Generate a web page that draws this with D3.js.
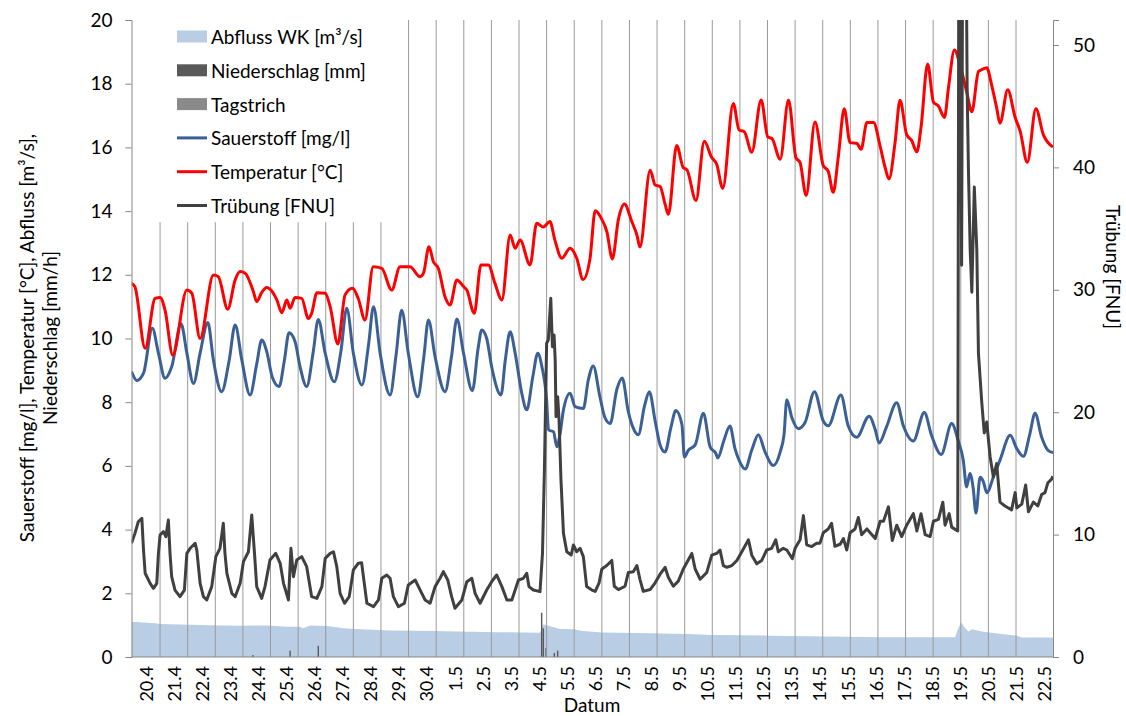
<!DOCTYPE html>
<html>
<head>
<meta charset="utf-8">
<script src="https://cdn.jsdelivr.net/npm/d3@7"></script>
<style>
  html, body { margin: 0; padding: 0; background: #ffffff; }
  svg { display: block; font-family: Lato, "Open Sans", sans-serif; }
</style>
</head>
<body>
<svg id="chart" width="1126" height="716"></svg>
<script>
// Time is given in days since 20.4 00:00 (the day marks sit on midnight).

// Category labels along the date axis
const dateLabels = ["20.4","21.4","22.4","23.4","24.4","25.4","26.4","27.4","28.4","29.4","30.4",
  "1.5","2.5","3.5","4.5","5.5","6.5","7.5","8.5","9.5","10.5","11.5","12.5","13.5","14.5",
  "15.5","16.5","17.5","18.5","19.5","20.5","21.5","22.5"];

// Day marks ("Tagstrich") at each midnight
const tagstrichDays = [1,2,3,4,5,6,7,8,9,10,11,12,13,14,15,16,17,18,19,20,21,22,23,24,25,26,27,28,29,30,31,32];
const tagstrichHeights = [13.65,13.65,13.65,13.65,13.65,13.65,13.65,13.65,13.65,
  20,20,20,20,20,20,20,20,20,20,20,20,20,20,20,20,20,20,20,20,20,20,20];

// Rainfall [mm]: [day, value]
const niederschlag = [[4.36,0.06],[5.71,0.2],[6.73,0.35],[14.82,1.39],[14.88,0.9],[14.98,0.28],[15.28,0.13],[15.4,0.2]];

// Discharge WK [m³/s]
const abfluss = [[-0.035,1.11],[0.82,1.06],[1.0,1.04],[2.81,1.0],[3.83,0.98],[4.86,0.99],[5.59,0.95],[6.07,0.95],
  [6.18,0.9],[6.43,0.99],[7.04,0.97],[7.64,0.9],[8.24,0.87],[9.33,0.83],[10.9,0.82],[13.19,0.78],[14.76,0.76],
  [14.88,1.03],[15.0,1.0],[15.49,0.88],[15.97,0.87],[16.33,0.82],[17.0,0.77],[18.27,0.75],[20.08,0.72],
  [21.03,0.69],[23.2,0.67],[27.19,0.62],[29.8,0.62],[29.86,0.8],[30.01,1.09],[30.16,0.9],[30.28,0.8],
  [30.4,0.87],[30.76,0.8],[31.18,0.75],[32.03,0.67],[32.21,0.61],[33.34,0.61]];

// Dissolved oxygen [mg/l]
const sauerstoff = [[-0.035,8.96],[0.16,8.68],[0.4,8.91],[0.72,10.32],[0.94,9.54],[1.18,8.75],[1.42,9.11],
  [1.76,10.46],[1.97,9.54],[2.21,8.59],[2.45,9.54],[2.73,10.5],[2.93,9.33],[3.23,8.33],[3.5,9.3],[3.72,10.42],
  [3.96,9.33],[4.26,8.23],[4.5,9.2],[4.68,9.95],[4.86,9.6],[5.06,8.8],[5.31,8.49],[5.5,9.3],[5.67,10.18],
  [5.89,9.9],[6.07,9.11],[6.31,8.49],[6.55,9.6],[6.73,10.6],[6.98,9.54],[7.31,8.64],[7.55,9.6],[7.76,10.95],
  [8.0,9.54],[8.31,8.54],[8.55,9.8],[8.73,11.0],[8.97,9.54],[9.33,8.23],[9.55,9.5],[9.75,10.89],[9.99,9.54],
  [10.33,8.17],[10.55,9.4],[10.72,10.58],[10.96,9.43],[11.32,8.33],[11.55,9.4],[11.75,10.61],[11.99,9.54],
  [12.31,8.36],[12.52,9.7],[12.65,10.27],[12.83,10.0],[13.01,9.11],[13.35,8.23],[13.5,9.3],[13.68,10.21],
  [13.86,9.54],[14.1,8.28],[14.28,7.76],[14.5,8.8],[14.68,9.54],[14.83,9.11],[15.0,8.07],[15.07,7.13],
  [15.25,7.07],[15.37,6.6],[15.49,7.02],[15.61,7.76],[15.85,8.28],[16.03,7.86],[16.33,7.8],[16.51,8.7],
  [16.69,9.14],[16.93,8.17],[17.11,7.52],[17.3,7.33],[17.54,8.39],[17.74,8.76],[17.95,7.74],[18.13,7.2],
  [18.32,6.98],[18.55,7.9],[18.72,8.33],[18.93,7.41],[19.11,6.66],[19.29,6.44],[19.5,7.2],[19.68,7.74],
  [19.9,7.3],[19.99,6.28],[20.13,6.49],[20.38,6.66],[20.68,7.65],[20.92,6.6],[21.13,6.39],[21.2,6.25],
  [21.42,6.8],[21.64,7.25],[21.82,6.55],[22.0,6.12],[22.19,5.9],[22.43,6.5],[22.67,6.98],[22.91,6.44],
  [23.21,6.01],[23.46,6.44],[23.6,7.0],[23.7,8.08],[23.88,7.52],[24.12,7.17],[24.36,7.36],[24.7,8.33],
  [25.02,7.41],[25.2,7.26],[25.66,8.23],[25.92,7.26],[26.23,6.9],[26.68,7.56],[26.9,7.14],[27.04,6.72],
  [27.3,7.2],[27.68,7.98],[27.92,7.26],[28.28,6.78],[28.68,7.68],[28.94,6.96],[29.29,6.36],[29.67,7.33],
  [29.91,6.78],[30.09,6.18],[30.21,5.34],[30.33,5.76],[30.45,5.3],[30.55,4.52],[30.7,5.64],[30.82,5.5],
  [30.94,5.16],[31.2,5.7],[31.42,6.18],[31.79,6.96],[32.03,6.54],[32.27,6.3],[32.5,7.0],[32.69,7.65],
  [32.93,6.9],[33.17,6.48],[33.34,6.42]];

// Water temperature [°C]
const temperatur = [[-0.035,11.73],[0.09,11.62],[0.46,9.69],[0.82,11.26],[1.0,11.29],[1.18,10.89],[1.46,9.48],
  [1.97,11.52],[2.15,11.42],[2.45,10.0],[2.93,11.99],[3.11,11.94],[3.45,10.92],[3.72,11.84],[3.9,12.1],
  [4.08,12.05],[4.38,11.47],[4.5,11.16],[4.68,11.44],[4.86,11.6],[4.98,11.55],[5.23,11.21],[5.41,10.81],
  [5.59,11.21],[5.71,10.95],[5.89,11.29],[6.13,11.26],[6.37,10.63],[6.49,10.79],[6.68,11.44],[6.98,11.42],
  [7.16,11.0],[7.44,9.83],[7.7,11.37],[7.97,11.58],[8.18,11.25],[8.42,10.58],[8.72,12.25],[9.03,12.2],
  [9.39,11.52],[9.69,12.25],[10.05,12.25],[10.42,11.94],[10.54,12.05],[10.74,12.88],[10.9,12.41],
  [11.08,12.2],[11.32,11.31],[11.5,11.05],[11.75,11.84],[11.99,11.63],[12.11,11.52],[12.38,10.79],
  [12.62,12.31],[12.89,12.31],[13.13,11.73],[13.38,11.21],[13.68,13.25],[13.86,12.83],[14.04,13.09],
  [14.4,12.31],[14.64,13.62],[14.88,13.5],[15.12,13.67],[15.3,13.09],[15.55,12.52],[15.85,12.83],
  [16.09,12.52],[16.32,11.85],[16.57,12.5],[16.76,14.01],[17.0,13.74],[17.18,13.36],[17.38,12.5],
  [17.6,13.74],[17.82,14.22],[18.08,13.68],[18.27,13.25],[18.38,12.87],[18.75,15.28],[18.93,14.82],
  [19.11,14.77],[19.29,14.22],[19.41,13.9],[19.71,16.06],[19.95,15.36],[20.08,15.3],[20.41,14.33],
  [20.71,16.19],[20.98,15.68],[21.16,15.47],[21.38,14.71],[21.76,17.38],[21.97,16.55],[22.16,16.49],
  [22.43,15.85],[22.77,17.49],[23.01,16.33],[23.16,16.28],[23.46,15.63],[23.76,17.49],[24.03,15.68],
  [24.18,15.52],[24.4,14.49],[24.72,16.8],[25.02,15.43],[25.2,15.25],[25.38,14.59],[25.56,15.67],
  [25.78,17.21],[25.99,16.15],[26.23,16.13],[26.39,15.94],[26.6,16.78],[26.84,16.78],[27.08,16.03],
  [27.26,15.37],[27.4,15.01],[27.62,16.15],[27.8,17.48],[28.04,16.4],[28.22,16.22],[28.41,15.86],
  [28.56,16.63],[28.8,18.62],[29.01,17.42],[29.19,17.3],[29.41,16.94],[29.55,17.84],[29.77,19.06],
  [29.98,18.56],[30.22,17.72],[30.4,17.12],[30.64,18.38],[30.76,18.44],[30.94,18.5],[31.12,17.95],
  [31.3,17.24],[31.42,16.76],[31.7,17.81],[31.97,16.94],[32.15,16.51],[32.41,15.53],[32.72,17.21],
  [32.99,16.4],[33.34,16.01]];

// Turbidity [FNU] (right axis)
const truebung = [[-0.035,9.29],[0.09,10.1],[0.21,11.05],[0.34,11.33],[0.4,8.74],[0.46,6.84],[0.64,6.02],
  [0.76,5.61],[0.88,6.02],[0.94,8.47],[1.0,9.97],[1.12,10.24],[1.21,9.83],[1.3,11.19],[1.36,8.47],
  [1.42,6.56],[1.54,5.47],[1.72,4.93],[1.88,5.47],[1.97,8.47],[2.09,8.88],[2.27,9.29],[2.33,8.74],
  [2.45,6.02],[2.57,4.93],[2.69,4.66],[2.87,5.75],[3.02,8.2],[3.17,8.88],[3.29,10.92],[3.35,8.47],
  [3.42,6.84],[3.6,5.2],[3.72,4.93],[3.9,6.02],[4.02,7.79],[4.2,8.6],[4.32,11.6],[4.42,8.47],[4.5,5.75],
  [4.68,4.79],[4.8,5.75],[4.98,7.92],[5.19,8.47],[5.35,7.65],[5.47,6.02],[5.65,4.66],[5.74,8.88],
  [5.83,6.56],[5.95,7.92],[6.13,8.2],[6.31,7.38],[6.49,4.93],[6.68,4.79],[6.86,5.75],[6.98,8.06],
  [7.16,8.47],[7.28,8.6],[7.4,7.38],[7.52,5.2],[7.68,4.39],[7.85,4.93],[8.0,7.11],[8.18,7.66],[8.3,7.7],
  [8.38,6.3],[8.49,4.39],[8.73,4.11],[8.91,4.66],[9.03,6.43],[9.21,6.7],[9.33,6.43],[9.45,4.93],
  [9.63,4.11],[9.85,4.39],[9.99,5.88],[10.24,6.29],[10.42,5.47],[10.6,4.66],[10.78,4.39],[10.96,5.75],
  [11.14,6.43],[11.26,6.97],[11.42,6.29],[11.56,4.93],[11.68,3.98],[11.93,4.66],[12.11,6.15],[12.29,6.43],
  [12.41,5.2],[12.59,4.39],[12.83,5.47],[13.01,6.15],[13.19,6.7],[13.38,5.75],[13.56,4.66],[13.74,4.66],
  [13.98,6.29],[14.16,6.43],[14.28,6.84],[14.36,5.75],[14.52,5.47],[14.76,5.34],[14.85,8.47],[14.92,15.28],
  [15.0,25.63],[15.06,25.9],[15.15,29.3],[15.21,25.35],[15.27,26.3],[15.31,24.3],[15.34,19.63],
  [15.4,21.27],[15.45,19.36],[15.52,14.46],[15.61,10.1],[15.73,8.6],[15.89,8.33],[15.97,9.15],[16.09,8.6],
  [16.21,8.88],[16.33,8.2],[16.45,5.75],[16.64,5.47],[16.76,5.36],[16.9,6.06],[17.0,7.19],[17.18,7.47],
  [17.36,7.89],[17.45,5.78],[17.6,5.51],[17.84,5.78],[17.96,6.91],[18.14,6.97],[18.27,7.47],[18.38,6.35],
  [18.5,5.36],[18.75,5.51],[18.93,6.06],[19.11,6.77],[19.29,7.33],[19.41,6.49],[19.59,5.78],[19.77,6.2],
  [19.95,7.19],[20.26,8.46],[20.38,7.19],[20.56,6.35],[20.8,6.91],[20.98,8.32],[21.16,8.46],[21.28,8.74],
  [21.4,7.47],[21.53,7.33],[21.71,7.47],[21.89,7.89],[22.07,8.6],[22.31,9.58],[22.43,8.32],[22.61,7.61],
  [22.79,7.89],[22.97,8.74],[23.15,8.88],[23.3,9.58],[23.39,8.6],[23.57,8.88],[23.7,8.74],[23.9,8.03],
  [24.0,8.88],[24.18,9.58],[24.3,11.55],[24.42,9.16],[24.6,9.02],[24.78,9.3],[24.9,9.3],[25.02,10.15],
  [25.2,10.46],[25.32,10.92],[25.44,9.05],[25.63,9.21],[25.75,9.67],[25.87,8.74],[25.99,10.15],
  [26.17,10.46],[26.29,11.4],[26.41,9.99],[26.6,10.46],[26.72,10.15],[26.9,9.68],[27.08,11.09],
  [27.2,11.09],[27.38,12.27],[27.52,9.52],[27.68,10.77],[27.86,9.84],[28.04,10.77],[28.28,11.71],
  [28.41,10.3],[28.56,11.71],[28.71,9.99],[28.89,9.84],[29.01,11.09],[29.19,11.24],[29.35,12.65],
  [29.43,10.77],[29.58,11.71],[29.67,10.61],[29.89,10.3],[29.93,60],[29.98,60],[30.03,32],[30.07,60],
  [30.19,60],[30.23,46.5],[30.28,39.5],[30.34,33.3],[30.4,29.8],[30.49,38.4],[30.58,33.3],[30.64,24.8],
  [30.76,20.8],[30.85,18.3],[30.94,19.2],[31.06,16.4],[31.18,14.7],[31.3,15.8],[31.42,12.65],[31.6,12.34],
  [31.84,12.02],[31.97,13.43],[32.03,12.18],[32.21,12.49],[32.35,14.05],[32.45,11.86],[32.63,12.65],
  [32.79,12.34],[32.93,13.27],[33.05,13.43],[33.15,14.21],[33.29,14.53],[33.34,14.77]];

const leftTicks = [0,2,4,6,8,10,12,14,16,18,20];
const rightTicks = [0,10,20,30,40,50];

// ---- layout ----
const plot = { left: 131.5, right: 1053, top: 20, bottom: 657 };
const FONT = 19;

const svg = d3.select("#chart");

const x = d3.scaleLinear().domain([-0.035, 33.34]).range([plot.left, plot.right]);
const yL = d3.scaleLinear().domain([0, 20]).range([plot.bottom, plot.top]);
const yR = d3.scaleLinear().domain([0, 52.04]).range([plot.bottom, plot.top]);
// Category labels are spread evenly across their own span of the axis
const xLab = d3.scalePoint().domain(dateLabels).range([x(0.49), x(33.02)]);

svg.append("defs").append("clipPath").attr("id", "plotClip")
  .append("rect")
  .attr("x", plot.left).attr("y", plot.top)
  .attr("width", plot.right - plot.left).attr("height", plot.bottom - plot.top);

const g = svg.append("g").attr("clip-path", "url(#plotClip)");

// Discharge area
g.append("path")
  .datum(abfluss)
  .attr("fill", "#b9cde5")
  .attr("d", d3.area().x(d => x(d[0])).y0(yL(0)).y1(d => yL(d[1])));

// Rainfall bars
g.selectAll("rect.rain").data(niederschlag).join("rect")
  .attr("class", "rain")
  .attr("x", d => x(d[0]) - 0.7).attr("width", 1.4)
  .attr("y", d => yL(d[1])).attr("height", d => yL(0) - yL(d[1]))
  .attr("fill", "#595959");

// Day marks
g.selectAll("line.tag").data(tagstrichDays).join("line")
  .attr("class", "tag")
  .attr("x1", d => x(d)).attr("x2", d => x(d))
  .attr("y1", yL(0)).attr("y2", (d, i) => yL(tagstrichHeights[i]))
  .attr("stroke", "#9a9a9a").attr("stroke-width", 1);

const lineL = d3.line().x(d => x(d[0])).y(d => yL(d[1])).curve(d3.curveMonotoneX);
const lineR = d3.line().x(d => x(d[0])).y(d => yR(d[1])).curve(d3.curveLinear);

g.append("path").datum(sauerstoff)
  .attr("fill", "none").attr("stroke", "#3a6096").attr("stroke-width", 3)
  .attr("stroke-linejoin", "round").attr("d", lineL);

g.append("path").datum(temperatur)
  .attr("fill", "none").attr("stroke", "#ff0000").attr("stroke-width", 3)
  .attr("stroke-linejoin", "round").attr("d", lineL);

g.append("path").datum(truebung)
  .attr("fill", "none").attr("stroke", "#404040").attr("stroke-width", 3)
  .attr("stroke-linejoin", "round").attr("d", lineR);

// ---- axes ----
const axisColor = "#868686";

const axL = svg.append("g").attr("transform", `translate(${plot.left},0)`)
  .call(d3.axisLeft(yL).tickValues(leftTicks).tickSize(6).tickPadding(13).tickFormat(d3.format("d")));
const axR = svg.append("g").attr("transform", `translate(${plot.right},0)`)
  .call(d3.axisRight(yR).tickValues(rightTicks).tickSize(6).tickPadding(14).tickFormat(d3.format("d")));

[axL, axR].forEach(a => {
  a.select(".domain").attr("stroke", axisColor);
  a.selectAll(".tick line").attr("stroke", axisColor);
  a.selectAll(".tick text").attr("fill", "#000").style("font-size", FONT + "px")
    .style("font-family", "Lato, 'Open Sans', sans-serif");
});

// date axis baseline
svg.append("line")
  .attr("x1", plot.left).attr("x2", plot.right)
  .attr("y1", plot.bottom).attr("y2", plot.bottom)
  .attr("stroke", axisColor).attr("stroke-width", 1);

const axB = svg.append("g").attr("transform", `translate(0,${plot.bottom})`)
  .call(d3.axisBottom(xLab).tickSize(0));
axB.select(".domain").remove();
axB.selectAll(".tick text")
  .attr("transform", "rotate(-90)")
  .attr("x", -9).attr("y", 0).attr("dy", "0.35em")
  .attr("text-anchor", "end")
  .attr("fill", "#000")
  .style("font-size", (FONT - 1) + "px")
  .style("font-family", "Lato, 'Open Sans', sans-serif");

// ---- axis titles ----
const titleStyle = sel => sel.attr("fill", "#000").style("font-size", FONT + "px")
  .attr("text-anchor", "middle").attr("dominant-baseline", "central");

svg.append("text").call(titleStyle)
  .attr("transform", "translate(26,338) rotate(-90)")
  .text("Sauerstoff [mg/l], Temperatur [°C], Abfluss [m³/s],");
svg.append("text").call(titleStyle)
  .attr("transform", "translate(49,338) rotate(-90)")
  .text("Niederschlag [mm/h]");
svg.append("text").call(titleStyle)
  .attr("transform", "translate(1113,267) rotate(90)")
  .text("Trübung [FNU]");
svg.append("text").call(titleStyle)
  .attr("x", 592).attr("y", 704)
  .text("Datum");

// ---- legend ----
const legendItems = [
  { name: "Abfluss WK [m³/s]", type: "rect", color: "#b9cde5" },
  { name: "Niederschlag [mm]", type: "rect", color: "#595959" },
  { name: "Tagstrich", type: "rect", color: "#8a8a8a" },
  { name: "Sauerstoff [mg/l]", type: "line", color: "#3a6096" },
  { name: "Temperatur [°C]", type: "line", color: "#ff0000" },
  { name: "Trübung [FNU]", type: "line", color: "#404040" }
];
const leg = svg.append("g").attr("transform", "translate(177,36.5)");
const li = leg.selectAll("g").data(legendItems).join("g")
  .attr("transform", (d, i) => `translate(0,${i * 33.8})`);
li.filter(d => d.type === "rect").append("rect")
  .attr("x", 0).attr("y", -6).attr("width", 30).attr("height", 12)
  .attr("fill", d => d.color);
li.filter(d => d.type === "line").append("line")
  .attr("x1", 0).attr("x2", 30).attr("y1", 0).attr("y2", 0)
  .attr("stroke", d => d.color).attr("stroke-width", 3);
li.append("text")
  .attr("x", 34).attr("y", 0).attr("dominant-baseline", "central")
  .attr("fill", "#000").style("font-size", FONT + "px")
  .text(d => d.name);
</script>
</body>
</html>
